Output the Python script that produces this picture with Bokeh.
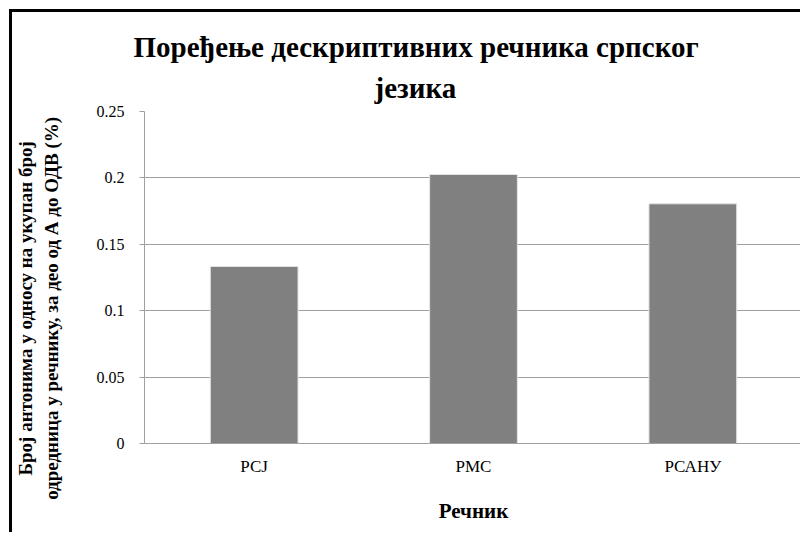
from bokeh.plotting import figure
from bokeh.models import FactorRange, ColumnDataSource, FixedTicker, Range1d, Title
from bokeh.embed import file_html
from bokeh.resources import INLINE

categories = ["РСЈ", "РМС", "РСАНУ"]
values = [0.1333, 0.2026, 0.1805]
y_ticks = [0, 0.05, 0.1, 0.15, 0.2, 0.25]
y_tick_labels = ["0", "0.05", "0.1", "0.15", "0.2", "0.25"]

title_line1 = "Поређење дескриптивних речника српског"
title_line2 = "језика"
NB = "\u00a0" * 13
y_label = "Број антонима у односу на укупан број" + NB + "\nодредница у речнику, за део од А до ОДВ (%)" + NB
x_label = "Речник"

SERIF = "Liberation Serif"

src = ColumnDataSource(dict(cat=categories, val=values))

p = figure(width=791, height=523, x_range=FactorRange(*categories, range_padding=0),
           y_range=Range1d(0, 0.25), output_backend="svg", toolbar_location=None,
           min_border_left=129, min_border_right=1, min_border_top=99, min_border_bottom=92)
p.styles = {"border-left": "3px solid black", "border-top": "3px solid black",
            "margin-left": "9px", "margin-top": "9px"}
p.outline_line_color = None

p.vbar(x="cat", top="val", width=0.4, source=src, fill_color="#808080",
       line_color="#e4e4e4", line_width=1)

def style_title(t):
    t.text_font = SERIF
    t.text_font_size = "29px"
    t.text_font_style = "bold"
    t.text_color = "black"

p.title.text = title_line1
p.title.align = "left"
p.title.offset = -11
p.title.standoff = 0
style_title(p.title)
t2 = Title(text=title_line2, align="left", offset=230, standoff=15)
style_title(t2)
p.add_layout(t2, "above")

p.yaxis.ticker = FixedTicker(ticks=y_ticks)
p.yaxis.major_label_overrides = dict(zip(y_ticks, y_tick_labels))
p.yaxis.minor_tick_line_color = None
p.yaxis.major_tick_out = 5
p.yaxis.major_tick_in = 0
p.yaxis.major_tick_line_color = "#a0a0a0"
p.yaxis.axis_line_color = "#a0a0a0"
p.yaxis.major_label_text_font = SERIF
p.yaxis.major_label_text_font_size = "16px"
p.yaxis.major_label_text_color = "black"
p.yaxis.major_label_standoff = 15
p.yaxis.axis_label = y_label
p.yaxis.axis_label_text_font = SERIF
p.yaxis.axis_label_text_font_size = "19px"
p.yaxis.axis_label_text_font_style = "bold"
p.yaxis.axis_label_text_color = "black"
p.yaxis.axis_label_standoff = 32

p.xaxis.major_tick_line_color = None
p.xaxis.minor_tick_line_color = None
p.xaxis.axis_line_color = "#a0a0a0"
p.xaxis.major_label_text_font = SERIF
p.xaxis.major_label_text_font_size = "17px"
p.xaxis.major_label_text_color = "black"
p.xaxis.major_label_standoff = 7
p.xaxis.axis_label = x_label
p.xaxis.axis_label_text_font = SERIF
p.xaxis.axis_label_text_font_size = "21px"
p.xaxis.axis_label_text_font_style = "bold"
p.xaxis.axis_label_text_color = "black"
p.xaxis.axis_label_standoff = 20

p.xgrid.grid_line_color = None
p.ygrid.grid_line_color = "#a0a0a0"
p.ygrid.ticker = FixedTicker(ticks=y_ticks)

open("out.html", "w").write(file_html(p, INLINE))
